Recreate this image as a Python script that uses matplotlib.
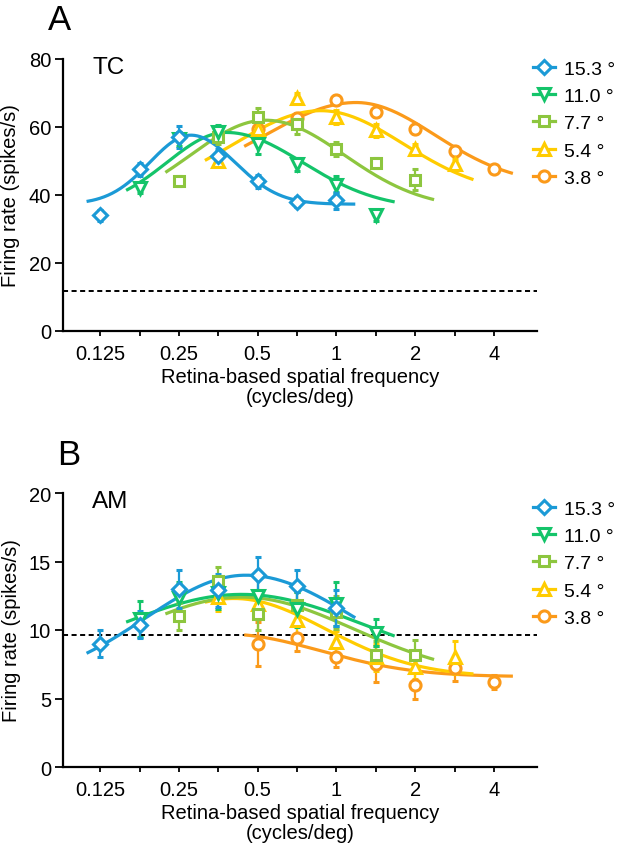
import numpy as np
import matplotlib
matplotlib.use("Agg")
import matplotlib.pyplot as plt
from matplotlib.lines import Line2D
from matplotlib.ticker import FixedLocator, NullFormatter

plt.rcParams['font.family'] = ['Liberation Sans', 'DejaVu Sans']

# ---------------- data ----------------
sf = [0.125, 0.177, 0.25, 0.354, 0.5, 0.707, 1.0, 1.414, 2.0, 2.828, 4.0]
series_labels = ["15.3 °", "11.0 °", "7.7 °", "5.4 °", "3.8 °"]
series_start = [0, 1, 2, 3, 4]          # index into sf of each series' first point
series_colors = ["#1b9ad6", "#14c46a", "#8dc63f", "#ffcc00", "#fb9a1a"]
series_markers = ["D", "v", "s", "^", "o"]

# Panel A (TC)
tc_rate = [
    [34.0, 47.5, 57.0, 51.5, 44.0, 38.0, 38.5],
    [42.0, 56.5, 58.5, 55.0, 49.0, 43.0, 34.0],
    [44.0, 57.0, 63.0, 61.0, 53.5, 49.5, 44.5],
    [50.0, 59.5, 68.5, 63.0, 59.0, 53.5, 49.0],
    [59.5, 62.5, 68.0, 64.5, 59.5, 53.0, 47.5],
]
tc_err = [
    [1.5, 1.8, 3.3, 2.0, 2.0, 1.5, 2.5],
    [1.5, 2.0, 2.0, 3.0, 2.0, 2.5, 1.5],
    [1.5, 2.0, 2.5, 3.0, 2.0, 1.5, 3.0],
    [1.5, 2.0, 1.5, 2.0, 2.0, 1.5, 1.5],
    [1.5, 1.5, 1.5, 1.5, 1.5, 1.5, 1.0],
]
# fitted tuning curves (Gaussian on log2 frequency): baseline, amplitude, peak SF, sigma low/high (octaves)
tc_fit_base = [37.3, 36.0, 36.0, 40.0, 43.0]
tc_fit_amp = [20.3, 22.4, 26.0, 24.8, 24.2]
tc_fit_peak = [0.278, 0.379, 0.536, 0.871, 1.189]
tc_fit_sig_lo = [0.52, 0.75, 0.95, 1.10, 1.15]
tc_fit_sig_hi = [0.56, 0.97, 1.00, 1.05, 1.00]
tc_baseline = 11.7

# Panel B (AM)
am_rate = [
    [9.0, 10.4, 13.0, 12.9, 14.0, 13.2, 11.6],
    [10.8, 12.3, 12.7, 12.5, 11.5, 11.9, 9.8],
    [11.0, 13.6, 11.2, 11.8, 11.3, 8.2, 8.2],
    [12.4, 11.9, 10.7, 9.1, 8.0, 7.3, 8.0],
    [9.0, 9.4, 8.0, 7.5, 6.0, 7.2, 6.2],
]
am_err = [
    [1.0, 1.0, 1.4, 1.2, 1.3, 1.2, 1.3],
    [1.3, 1.2, 1.2, 1.2, 1.3, 1.6, 1.0],
    [1.0, 1.0, 1.2, 1.0, 1.2, 1.0, 1.1],
    [1.0, 1.0, 1.0, 0.8, 1.0, 0.9, 1.2],
    [1.6, 0.9, 0.7, 1.3, 1.0, 0.9, 0.5],
]
am_fit_base = [6.0, 7.0, 6.5, 6.6, 6.6]
am_fit_amp = [8.0, 5.6, 5.9, 5.7, 3.1]
am_fit_peak = [0.451, 0.435, 0.435, 0.406, 0.379]
am_fit_sig_lo = [1.28, 1.55, 1.42, 1.17, 1.20]
am_fit_sig_hi = [1.40, 1.55, 1.42, 1.17, 1.20]
am_baseline = 9.65

xtick_major = [0.125, 0.25, 0.5, 1, 2, 4]
xtick_labels = ["0.125", "0.25", "0.5", "1", "2", "4"]
xtick_minor = [0.177, 0.354, 0.707, 1.414, 2.828]

# ---------------- figure ----------------
W, H = 628, 853
fig = plt.figure(figsize=(W / 100, H / 100), dpi=100)

def px_axes(left, right, top, bottom):
    return fig.add_axes([left / W, 1 - bottom / H, (right - left) / W, (bottom - top) / H])

axA = px_axes(63, 537, 60, 332)
axB = px_axes(63, 537, 494, 768)

FS = 14.5
LW = 2.3
MS = {'D': 7.2, 'v': 8.3, 's': 7.6, '^': 8.3, 'o': 8.0}
MEW = 2.2


def draw_panel(ax, rates, errs, base, amp, peak, slo, shi, dashed, ylim, yticks, name, leg_top_px):
    for k in reversed(range(len(rates))):
        i0 = series_start[k]
        x = np.array(sf[i0:i0 + len(rates[k])])
        col = series_colors[k]
        # fitted curve
        u0 = np.log2(x[0]) - 0.17
        u1 = np.log2(x[-1]) + 0.24
        uu = np.linspace(u0, u1, 200)
        up = np.log2(peak[k])
        sig = np.where(uu < up, slo[k], shi[k])
        yy = base[k] + amp[k] * np.exp(-(uu - up) ** 2 / (2 * sig ** 2))
        ax.plot(2 ** uu, yy, color=col, lw=LW, solid_capstyle='butt', zorder=2)
        ax.errorbar(x, rates[k], yerr=errs[k], fmt=series_markers[k], color=col,
                    mfc='white', mec=col, mew=MEW, ms=MS[series_markers[k]],
                    elinewidth=1.6, capsize=2.2, capthick=1.6, zorder=3)
    ax.axhline(dashed, color='black', lw=1.4, ls=(0, (2.6, 1.8)), zorder=1)
    ax.set_xscale('log')
    ax.set_xlim(0.0903, 5.84)
    ax.set_ylim(*ylim)
    ax.set_yticks(yticks)
    ax.xaxis.set_major_locator(FixedLocator(xtick_major))
    ax.set_xticklabels(xtick_labels)
    ax.xaxis.set_minor_locator(FixedLocator(xtick_minor))
    ax.xaxis.set_minor_formatter(NullFormatter())
    for s in ['top', 'right']:
        ax.spines[s].set_visible(False)
    for s in ['left', 'bottom']:
        ax.spines[s].set_linewidth(1.6)
    ax.tick_params(axis='y', direction='out', length=5.5, width=1.3, labelsize=FS, pad=3)
    ax.tick_params(axis='x', which='both', direction='out', length=3.3, width=1.3, labelsize=FS, pad=6)
    ax.set_ylabel("Firing rate (spikes/s)", fontsize=FS, labelpad=6)
    ax.set_xlabel("Retina-based spatial frequency\n(cycles/deg)", fontsize=FS, labelpad=3, linespacing=1.05)
    ax.text(0.062, 0.97, name, transform=ax.transAxes, fontsize=17.5, va='center', ha='left')
    handles = [Line2D([], [], color=series_colors[k], marker=series_markers[k], mfc='white',
                      mec=series_colors[k], mew=MEW, ms=MS[series_markers[k]], lw=LW)
               for k in range(len(rates))]
    ax.legend(handles, series_labels, loc='upper left',
              bbox_to_anchor=(533 / W, 1 - leg_top_px / H), bbox_transform=fig.transFigure,
              frameon=False, fontsize=14, handlelength=1.15, handletextpad=0.45,
              labelspacing=0.5, borderpad=0, borderaxespad=0)


draw_panel(axA, tc_rate, tc_err, tc_fit_base, tc_fit_amp, tc_fit_peak, tc_fit_sig_lo, tc_fit_sig_hi,
           tc_baseline, (0, 80), [0, 20, 40, 60, 80], "TC", 61)
draw_panel(axB, am_rate, am_err, am_fit_base, am_fit_amp, am_fit_peak, am_fit_sig_lo, am_fit_sig_hi,
           am_baseline, (0, 20), [0, 5, 10, 15, 20], "AM", 501)

fig.text(48 / W, 1 - 20 / H, "A", fontsize=25, va='center', ha='left')
fig.text(57 / W, 1 - 456 / H, "B", fontsize=25, va='center', ha='left')

fig.savefig("out.png", dpi=100)
